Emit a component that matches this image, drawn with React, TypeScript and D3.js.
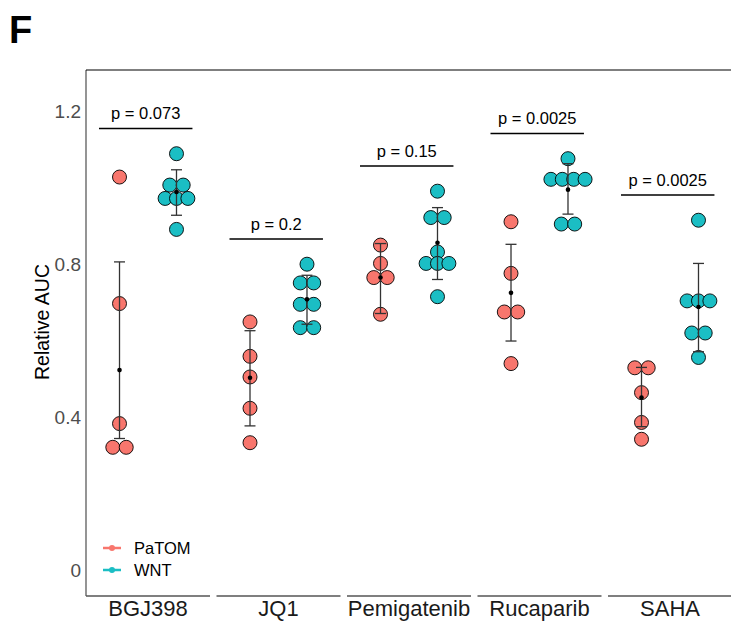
import React from "react";
import * as d3 from "d3";

// Relative AUC per drug, one row per drug, one entry per replicate
const drugs = ["BGJ398", "JQ1", "Pemigatenib", "Rucaparib", "SAHA"];
const groups = ["PaTOM", "WNT"];

const patomAUC = [
  [1.028, 0.697, 0.383, 0.321, 0.321],
  [0.649, 0.559, 0.505, 0.423, 0.333],
  [0.85, 0.802, 0.765, 0.765, 0.669],
  [0.911, 0.776, 0.675, 0.675, 0.54],
  [0.529, 0.529, 0.464, 0.386, 0.342],
];
const wntAUC = [
  [1.089, 1.007, 1.007, 0.972, 0.972, 0.972, 0.891],
  [0.8, 0.751, 0.751, 0.695, 0.695, 0.634, 0.634],
  [0.991, 0.922, 0.922, 0.832, 0.802, 0.802, 0.802, 0.715],
  [1.076, 1.022, 1.022, 1.022, 1.022, 0.905, 0.905],
  [0.915, 0.704, 0.704, 0.704, 0.62, 0.62, 0.556],
];

// Summary (centre dot and whiskers)
const patomMean = [0.523, 0.503, 0.765, 0.725, 0.451];
const patomLow = [0.344, 0.377, 0.671, 0.599, 0.375];
const patomHigh = [0.806, 0.626, 0.854, 0.852, 0.53];
const wntMean = [0.989, 0.708, 0.856, 0.995, 0.688];
const wntLow = [0.928, 0.643, 0.76, 0.931, 0.571];
const wntHigh = [1.047, 0.771, 0.948, 1.063, 0.802];

const pLabels = ["0.073", "0.2", "0.15", "0.0025", "0.0025"];
const yTicks = [0, 0.4, 0.8, 1.2];

const W = 731;
const H = 630;
const COLORS: Record<string, string> = { PaTOM: "#F8766D", WNT: "#1BBEC4" };
const FONT = "'Liberation Sans', Arial, sans-serif";

const panelLeft = 86;
const panelTop = 70;
const panelBottom = 596;
const panelW = 124;
const gap = 6.5;

const y = d3.scaleLinear().domain([-0.068, 1.308]).range([panelBottom, panelTop]);
const facet = d3
  .scaleBand<string>()
  .domain(drugs)
  .range([panelLeft, panelLeft + drugs.length * panelW + (drugs.length - 1) * gap])
  .paddingInner(gap / (panelW + gap))
  .paddingOuter(0);
const inner = d3.scalePoint<string>().domain(groups).range([0, facet.bandwidth()]).padding(0.588);

const R = 7;
const STACK = 13.4;

// Dots that share a bin are laid out side by side, centred on the group
function stacks(values: number[]) {
  const bins = d3.group(values, (v) => v.toFixed(3));
  const out: { v: number; dx: number }[] = [];
  for (const [, vs] of bins) {
    const n = vs.length;
    const s = n >= 3 ? STACK * 0.85 : STACK;
    vs.forEach((v, i) => out.push({ v, dx: (i - (n - 1) / 2) * s }));
  }
  return out;
}

export default function App() {
  const summary = {
    PaTOM: { mean: patomMean, low: patomLow, high: patomHigh, values: patomAUC },
    WNT: { mean: wntMean, low: wntLow, high: wntHigh, values: wntAUC },
  } as const;

  return (
    <svg
      width={W}
      height={H}
      style={{ position: "absolute", left: 0, top: 0, background: "#fff" }}
      fontFamily={FONT}
    >
      <rect width={W} height={H} fill="#fff" />
      <text x={9} y={43} fontSize={38} fontWeight="bold" fill="#000">
        F
      </text>

      {/* y axis */}
      <line x1={panelLeft} x2={panelLeft} y1={panelTop} y2={panelBottom} stroke="#4d4d4d" strokeWidth={1.2} />
      <line x1={panelLeft} x2={W} y1={panelTop} y2={panelTop} stroke="#000" strokeWidth={1.2} />
      {yTicks.map((t) => (
        <text key={t} x={81} y={y(t)} dy="0.36em" textAnchor="end" fontSize={19} fill="#4d4d4d">
          {String(t)}
        </text>
      ))}
      <text
        transform={`translate(49, 322) rotate(-90)`}
        textAnchor="middle"
        fontSize={19.5}
        fill="#000"
      >
        Relative AUC
      </text>

      {drugs.map((drug, di) => {
        const x0 = facet(drug)!;
        const bw = facet.bandwidth();
        const step = inner.step();
        const xP = x0 + inner("PaTOM")!;
        const xW = x0 + inner("WNT")!;
        const maxV = d3.max([...patomAUC[di], ...wntAUC[di]])!;
        const by = y(maxV + 0.066);
        const bx1 = xP - 0.36 * step;
        const bx2 = xW + 0.28 * step;
        return (
          <g key={drug}>
            {/* x axis segment and facet label */}
            <line x1={x0} x2={x0 + bw} y1={panelBottom} y2={panelBottom} stroke="#555" strokeWidth={1.6} />
            <text x={x0 + bw / 2} y={616} textAnchor="middle" fontSize={22} fill="#1a1a1a">
              {drug}
            </text>

            {/* points */}
            {groups.map((g) => {
              const cx = x0 + inner(g)!;
              return stacks(summary[g as "PaTOM" | "WNT"].values[di]).map((p, i) => (
                <circle
                  key={g + i}
                  cx={cx + p.dx}
                  cy={y(p.v)}
                  r={R}
                  fill={COLORS[g]}
                  stroke="#000"
                  strokeWidth={0.9}
                />
              ));
            })}

            {/* whiskers and centre */}
            {groups.map((g) => {
              const s = summary[g as "PaTOM" | "WNT"];
              const cx = x0 + inner(g)!;
              return (
                <g key={g + "-bar"} stroke="#333" strokeWidth={1.3}>
                  <line x1={cx} x2={cx} y1={y(s.low[di])} y2={y(s.high[di])} />
                  <line x1={cx - 5.5} x2={cx + 5.5} y1={y(s.low[di])} y2={y(s.low[di])} />
                  <line x1={cx - 5.5} x2={cx + 5.5} y1={y(s.high[di])} y2={y(s.high[di])} />
                  <circle cx={cx} cy={y(s.mean[di])} r={2.3} fill="#000" stroke="none" />
                </g>
              );
            })}

            {/* comparison bracket */}
            <line x1={bx1} x2={bx2} y1={by} y2={by} stroke="#000" strokeWidth={1.6} />
            <text x={(bx1 + bx2) / 2} y={by - 9} textAnchor="middle" fontSize={16.5} fill="#000">
              {`p = ${pLabels[di]}`}
            </text>
          </g>
        );
      })}

      {/* legend */}
      {groups.map((g, i) => {
        const ly = 548 + i * 22;
        return (
          <g key={g}>
            <line x1={103} x2={121} y1={ly} y2={ly} stroke={COLORS[g]} strokeWidth={2.5} />
            <circle cx={112} cy={ly} r={3} fill={COLORS[g]} />
            <text x={134} y={ly} dy="0.36em" fontSize={16.5} fill="#000">
              {g}
            </text>
          </g>
        );
      })}
    </svg>
  );
}
